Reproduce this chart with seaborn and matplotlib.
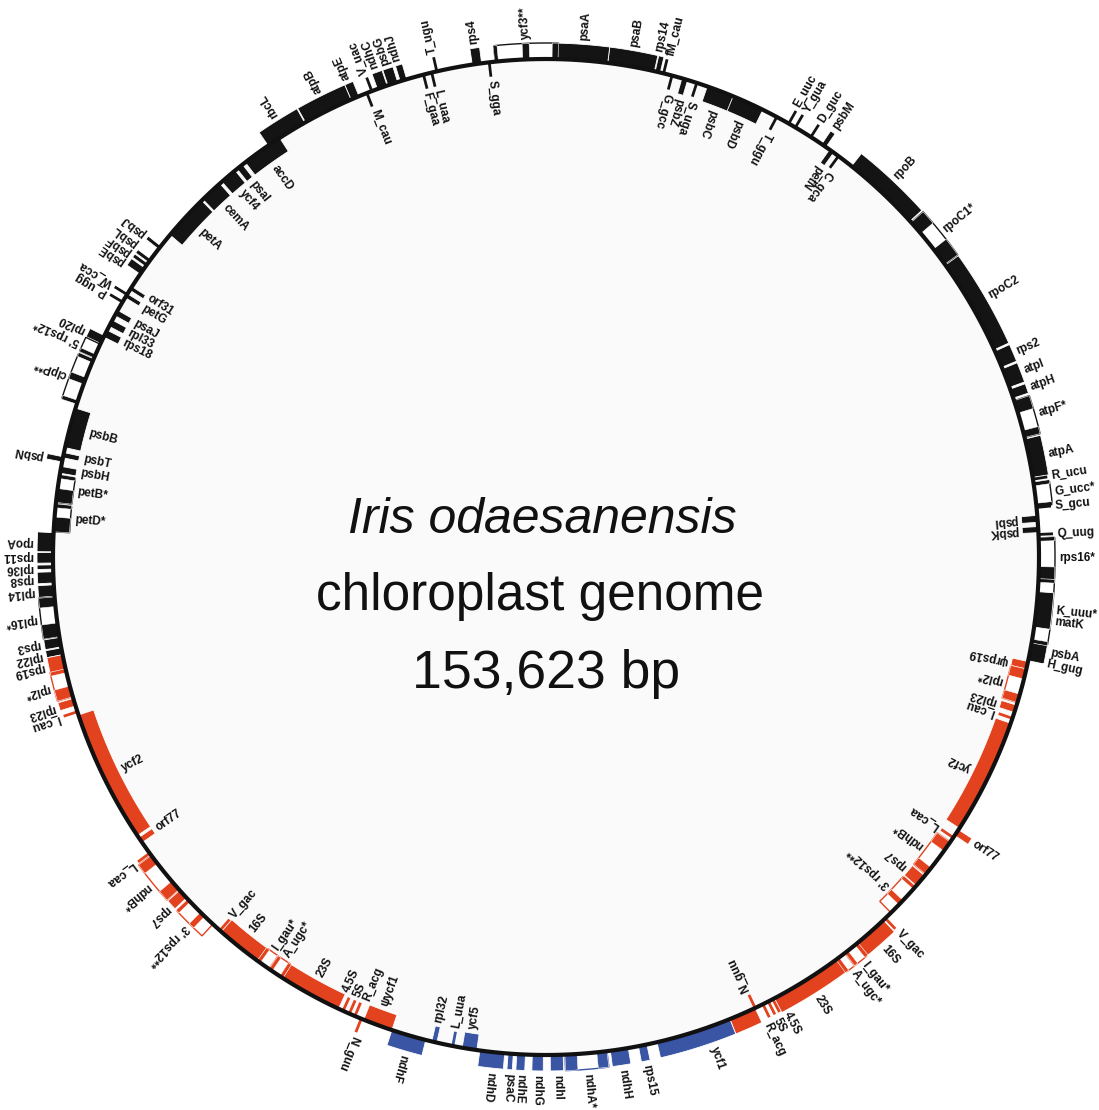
import numpy as np
import matplotlib
matplotlib.use("Agg")
import matplotlib.pyplot as plt
from matplotlib.patches import Polygon
import seaborn as sns

GENOME_KB = 153.623
region_names = ["LSC", "IRb", "SSC", "IRa"]
region_start = [0.0, 86.80, 112.61, 129.73]
region_end = [86.80, 112.61, 129.73, 153.623]
region_colors = ["#141414", "#e2421e", "#3a55a4", "#e2421e"]

gene_names = ["psbA", "K_uuu*", "matK", "rps16*", "psbK", "psbI", "G_ucc*", "atpA", "atpF*",
              "atpH", "atpI", "rps2", "rpoC2", "rpoC1*", "rpoB", "petN", "psbM", "psbD",
              "psbC", "psbZ", "rps14", "psaB", "psaA", "ycf3**", "rps4", "ndhJ", "psbG",
              "ndhC", "atpE", "atpB", "rbcL", "accD", "psaI", "ycf4", "cemA", "petA",
              "psbJ", "psbL", "psbF", "psbE", "orf31", "petG", "psaJ", "rpl33", "rps18",
              "rpl20", "5' rps12*", "clpP**", "psbB", "psbT", "psbN", "psbH", "petB*",
              "petD*", "rpoA", "rps11", "rpl36", "rps8", "rpl14", "rpl16*", "rps3", "rpl22",
              "rps19", "rpl2*", "rpl23", "ycf2", "orf77", "ndhB*", "rps7", "3' rps12**",
              "16S", "I_gau*", "A_ugc*", "23S", "ψycf1", "ndhF", "rpl32", "ycf5", "ndhD",
              "psaC", "ndhE", "ndhG", "ndhI", "ndhA*", "ndhH", "rps15", "ycf1", "23S",
              "A_ugc*", "I_gau*", "16S", "3' rps12**", "rps7", "ndhB*", "orf77", "ycf2",
              "rpl23", "rpl2*", "ψrps19"]
gene_start = [0.05, 0.98, 1.71, 4.10, 6.36, 6.87, 7.68, 9.09, 11.09,
              13.10, 13.66, 14.72, 15.66, 20.53, 23.26, 28.33, 28.80, 32.43,
              34.05, 36.44, 37.85, 38.15, 40.50, 42.97, 46.77, 50.57, 51.04,
              51.59, 53.08, 53.51, 56.07, 57.52, 59.78, 60.25, 61.24, 62.47,
              65.50, 66.31, 66.57, 66.83, 67.94, 68.36, 69.30, 69.85, 70.41,
              70.71, 71.18, 72.03, 74.55, 76.81, 77.02, 77.50, 77.96,
              79.41, 80.78, 81.76, 82.36, 82.70, 83.34, 83.94, 85.94, 86.46,
              86.80, 87.52, 89.01, 89.87, 96.61, 97.68, 99.90, 100.54,
              102.80, 105.15, 105.87, 106.60, 111.12, 112.61, 114.66, 116.20, 117.09,
              118.50, 118.93, 119.70, 120.59, 121.32, 123.58, 124.99, 125.93, 132.16,
              135.83, 136.38, 137.06, 139.33, 141.16, 141.89, 144.28, 144.70,
              151.02, 151.53, 153.24]
gene_end = [0.94, 4.05, 3.46, 6.10, 6.66, 7.21, 8.79, 11.01, 12.97,
            13.57, 14.64, 15.58, 20.48, 23.17, 27.23, 28.59, 29.06, 34.18,
            35.42, 36.74, 38.11, 40.50, 42.97, 46.09, 47.24, 50.91, 51.55,
            52.10, 53.51, 56.03, 58.21, 59.61, 60.13, 61.11, 62.39, 64.78,
            65.67, 66.49, 66.74, 67.21, 68.15, 68.58, 69.60, 70.20, 70.79,
            71.14, 71.90, 74.29, 76.56, 77.07, 77.28, 77.84, 79.29,
            80.74, 81.72, 82.27, 82.57, 83.25, 83.90, 85.90, 86.41, 86.80,
            87.52, 88.93, 89.40, 96.49, 96.91, 99.85, 100.41, 102.24,
            105.10, 105.87, 106.55, 109.76, 112.61, 114.36, 114.92, 116.94, 118.33,
            118.76, 119.36, 120.25, 121.23, 123.41, 124.48, 125.42, 131.09, 135.83,
            136.38, 137.06, 138.81, 141.07, 141.80, 143.89, 144.62, 150.46,
            151.40, 153.24, 153.62]
gene_side = ["o", "o", "o", "o", "i", "i", "o", "o", "o",
             "o", "o", "o", "o", "o", "o", "i", "o", "i",
             "i", "i", "o", "o", "o", "o", "o", "o", "o",
             "o", "o", "o", "o", "i", "i", "i", "i", "i",
             "o", "o", "o", "o", "i", "i", "i", "i", "i",
             "o", "o", "o", "i", "i", "o", "i", "i",
             "i", "o", "o", "o", "o", "o", "o", "o", "o",
             "o", "o", "o", "i", "i", "o", "o", "o",
             "i", "i", "i", "i", "i", "o", "i", "i", "o",
             "o", "o", "o", "o", "o", "o", "o", "o", "o",
             "o", "o", "o", "i", "i", "i", "o", "i",
             "i", "i", "i"]

# exons of intron-containing genes
exon_start = [0.98, 3.98, 4.10, 5.97, 7.68, 8.73, 11.09, 12.33, 20.53, 22.45,
              42.97, 44.38, 45.96, 71.75, 72.03, 72.97, 74.21, 77.96, 78.60,
              79.41, 80.01, 83.94, 85.22, 87.52, 88.38, 97.68, 99.30, 100.54, 101.39,
              105.15, 105.82, 105.87, 106.50, 121.32, 122.90, 135.83, 136.33,
              136.38, 137.01, 139.88, 140.98, 141.89, 143.34, 151.53, 152.73]
exon_end = [1.05, 4.05, 4.69, 6.10, 7.74, 8.79, 11.44, 12.97, 21.46, 23.17,
            43.27, 44.72, 46.09, 71.90, 72.11, 73.31, 74.29, 78.05, 79.29,
            79.50, 80.74, 84.41, 85.90, 87.69, 88.93, 98.19, 99.85, 100.63, 101.69,
            105.20, 105.87, 105.92, 106.55, 121.92, 123.41, 135.88, 136.38,
            136.43, 137.06, 140.18, 141.07, 142.31, 143.89, 151.96, 153.24]
exon_side = ["o", "o", "o", "o", "o", "o", "o", "o", "o", "o",
             "o", "o", "o", "o", "o", "o", "o", "i", "i",
             "i", "i", "o", "o", "o", "o", "o", "o", "o", "o",
             "i", "i", "i", "i", "o", "o", "o", "o",
             "o", "o", "i", "i", "i", "i", "i", "i"]

trna_names = ["H_gug", "Q_uug", "S_gcu", "R_ucu", "C_gca", "D_guc", "Y_gua", "E_uuc",
              "T_ggu", "S_uga", "G_gcc", "fM_cau", "S_gga", "T_ugu", "L_uaa", "F_gaa",
              "V_uac", "M_cau", "W_cca", "P_ugg", "I_cau", "L_caa", "V_gac", "4.5S",
              "5S", "R_acg", "N_guu", "L_uua", "N_guu", "R_acg", "5S", "4.5S", "V_gac",
              "L_caa", "I_cau"]
trna_pos = [0.13, 6.27, 7.60, 9.00, 28.04, 29.70, 30.60, 30.98,
            31.66, 35.97, 37.25, 37.68, 46.39, 49.03, 49.29, 49.71,
            52.40, 52.66, 68.40, 68.83, 89.70, 97.55, 102.71, 110.01,
            110.35, 110.65, 110.99, 115.73, 131.09, 131.52, 131.82, 132.07, 138.94,
            144.15, 150.72]
trna_side = ["o", "o", "o", "o", "i", "o", "o", "o",
             "i", "i", "i", "o", "i", "o", "i", "i",
             "o", "i", "o", "o", "o", "o", "i", "i",
             "i", "i", "o", "i", "i", "o", "o", "o", "o",
             "i", "i"]

title_lines = ["Iris odaesanensis", "chloroplast genome", "153,623 bp"]

# ---------------- layout ----------------
W, Hfig = 1099, 1110
THETA0 = 102.1          # map angle (deg, clockwise from top) of position 0
CX, CY, RX, RY = 546.0, 557.0, 493.0, 498.0
BLOCK = 16.0
TICK = 14.5
GAP = 4.0
MIN_DEG = 0.45
LABEL_PX = 11.5
LABEL_SIZE = 8.5
label_nudge = {"matK": 0.9}   # keep nested label below its host label

sns.set_theme(style="white")
plt.rcParams["font.family"] = ["Liberation Sans", "DejaVu Sans"]

fig = plt.figure(figsize=(W / 100, Hfig / 100), dpi=100)
ax = fig.add_axes([0, 0, 1, 1])


def ang(kb):
    return THETA0 - np.asarray(kb) / GENOME_KB * 360.0


def pt(theta, d):
    t = np.deg2rad(theta)
    return CX + (RX + d) * np.sin(t), CY - (RY + d) * np.cos(t)


def region_color(kb):
    for s, e, c in zip(region_start, region_end, region_colors):
        if s <= kb < e:
            return c
    return region_colors[-1]


def pieces(s, e):
    cuts = [s] + [b for b in region_start[1:] if s < b < e] + [e]
    return [(cuts[k], cuts[k + 1], region_color((cuts[k] + cuts[k + 1]) / 2))
            for k in range(len(cuts) - 1)]


def band(s, e, side, fc, ec, lw, z):
    ta, tb = float(ang(s)), float(ang(e))
    if abs(ta - tb) < MIN_DEG:
        m = (ta + tb) / 2
        ta, tb = m + MIN_DEG / 2, m - MIN_DEG / 2
    n = max(2, int(abs(tb - ta) * 4) + 2)
    th = np.linspace(ta, tb, n)
    d0, d1 = (0.0, BLOCK) if side == "o" else (-BLOCK, 0.0)
    xo, yo = pt(th, d1)
    xi, yi = pt(th[::-1], d0)
    poly = Polygon(np.column_stack([np.r_[xo, xi], np.r_[yo, yi]]), closed=True,
                   facecolor=fc, edgecolor=ec, linewidth=lw, zorder=z, joinstyle="miter")
    ax.add_patch(poly)


# interior shading
tt = np.linspace(0, 360, 721)
ex, ey = pt(tt, 0.0)
ax.add_patch(Polygon(np.column_stack([ex, ey]), closed=True, facecolor="#fafafa",
                     edgecolor="none", zorder=0))

# genes
for name, s, e, side in zip(gene_names, gene_start, gene_end, gene_side):
    for ps, pe, col in pieces(s, e):
        if "*" in name:
            band(ps, pe, side, "white", col, 1.0, 2)
        else:
            band(ps, pe, side, col, "white", 0.6, 2)

for s, e, side in zip(exon_start, exon_end, exon_side):
    for ps, pe, col in pieces(s, e):
        band(ps, pe, side, col, "white", 0.4, 3)

# tRNA / small RNA ticks
for name, p, side in zip(trna_names, trna_pos, trna_side):
    th = float(ang(p))
    d = TICK if side == "o" else -TICK
    x0, y0 = pt(th, 0.0)
    x1, y1 = pt(th, d)
    ax.plot([x0, x1], [y0, y1], color=region_color(p), lw=2.0, zorder=3,
            solid_capstyle="butt")

# backbone
bx, by = pt(tt, 0.0)
sns.lineplot(x=bx, y=by, sort=False, estimator=None, color="#111111", linewidth=3,
             ax=ax, zorder=4)

# labels
lab_txt, lab_ang, lab_side, lab_off = [], [], [], []
for name, s, e, side in zip(gene_names, gene_start, gene_end, gene_side):
    lab_txt.append(name)
    lab_ang.append(float(ang((s + e) / 2)) + label_nudge.get(name, 0.0))
    lab_side.append(side)
    lab_off.append(BLOCK + GAP)
for name, p, side in zip(trna_names, trna_pos, trna_side):
    lab_txt.append(name)
    lab_ang.append(float(ang(p)))
    lab_side.append(side)
    lab_off.append(TICK + GAP)


def spread(angles, dmin, iters=800):
    angles = np.asarray(angles, float)
    order = np.argsort(angles, kind="stable")
    p = angles[order].copy()
    for _ in range(iters):
        moved = False
        for k in range(len(p) - 1):
            g = p[k + 1] - p[k]
            if g < dmin - 1e-9:
                sft = (dmin - g) / 2
                p[k] -= sft
                p[k + 1] += sft
                moved = True
        if not moved:
            break
    out = np.empty_like(p)
    out[order] = p
    return out


lab_ang = np.array(lab_ang)
final_ang = lab_ang.copy()
for sd, rad in (("o", RY + BLOCK + GAP), ("i", RY - BLOCK - GAP)):
    idx = [k for k in range(len(lab_txt)) if lab_side[k] == sd]
    dmin = np.rad2deg(LABEL_PX / rad)
    final_ang[idx] = spread(lab_ang[idx], dmin)

for txt, th, sd, off in zip(lab_txt, final_ang, lab_side, lab_off):
    d = off if sd == "o" else -off
    x, y = pt(th, d)
    rot = 90.0 - th if sd == "o" else 270.0 - th
    rot = (rot + 180.0) % 360.0 - 180.0
    ax.text(x, y, txt, rotation=rot, rotation_mode="anchor", ha="left", va="center",
            fontsize=LABEL_SIZE, fontweight="bold", color="#111111", zorder=5)

# centre title
ax.text(542, 533, title_lines[0], fontsize=36, style="italic", ha="center",
        va="baseline", color="#111111", zorder=6)
ax.text(540, 610, title_lines[1], fontsize=37, ha="center", va="baseline",
        color="#111111", zorder=6)
ax.text(546, 688, title_lines[2], fontsize=38.5, ha="center", va="baseline",
        color="#111111", zorder=6)

ax.set_xlim(0, W)
ax.set_ylim(Hfig, 0)
ax.axis("off")
fig.savefig("out.png", dpi=100, facecolor="white")
